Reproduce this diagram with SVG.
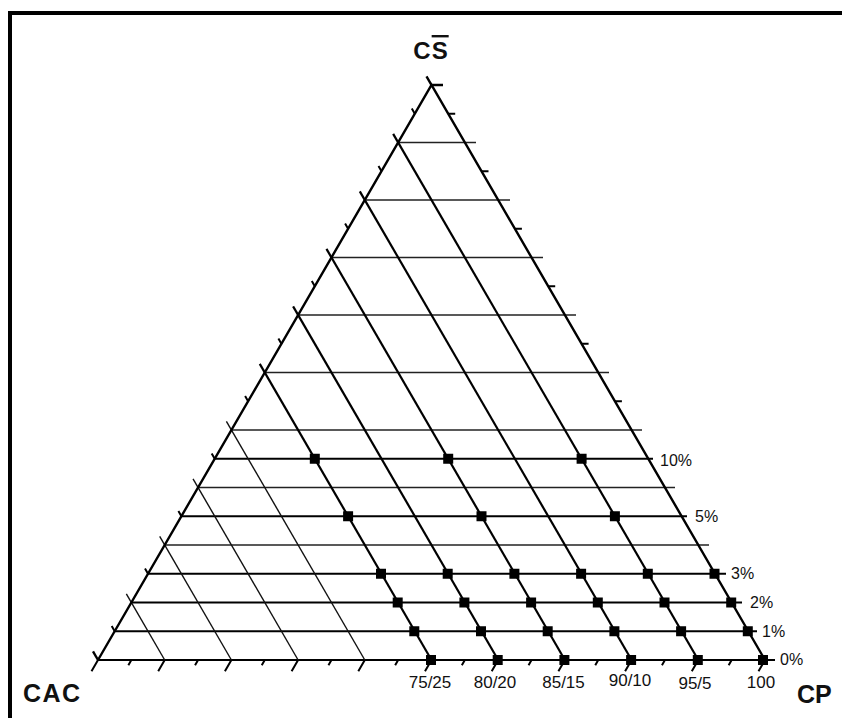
<svg xmlns="http://www.w3.org/2000/svg" width="842" height="718" viewBox="0 0 842 718">
<style>
.edge{stroke:#000;stroke-width:2.4;fill:none;stroke-linecap:butt}
.data{stroke:#000;stroke-width:2.2;fill:none}
.thin{stroke:#111;stroke-width:1.4;fill:none}
.hgrid{stroke:#222;stroke-width:1.6;fill:none}
.hdata{stroke:#000;stroke-width:2.2;fill:none}
.tick{stroke:#000;stroke-width:2;fill:none}
.m{fill:#000}
.lbl{font-family:"Liberation Sans",Arial,sans-serif;fill:#111}
.big{font-family:"Liberation Sans",Arial,sans-serif;font-weight:bold;font-size:25px;fill:#111}
</style>
<rect width="842" height="718" fill="#fff"/>
<path id="frame" d="M10,718 V13 H842" stroke="#000" stroke-width="4" fill="none"/>

<g id="horizontal-grid">
<line class="hgrid" x1="398.15" y1="142.5" x2="476" y2="142.5"/>
<line class="hgrid" x1="364.8" y1="200" x2="510" y2="200"/>
<line class="hgrid" x1="331.45" y1="257.5" x2="543" y2="257.5"/>
<line class="hgrid" x1="298.1" y1="315" x2="576" y2="315"/>
<line class="hgrid" x1="264.75" y1="372.5" x2="609" y2="372.5"/>
<line class="hgrid" x1="231.4" y1="430" x2="642" y2="430"/>
<line class="hgrid" x1="198.05" y1="487.5" x2="675" y2="487.5"/>
<line class="hgrid" x1="164.7" y1="545" x2="709" y2="545"/>
</g>
<g id="horizontal-data">
<line class="hdata" x1="214.7" y1="458.75" x2="653" y2="458.75"/>
<line class="hdata" x1="181.4" y1="516.25" x2="687" y2="516.25"/>
<line class="hdata" x1="148" y1="573.75" x2="726" y2="573.75"/>
<line class="hdata" x1="131.35" y1="602.5" x2="742" y2="602.5"/>
<line class="hdata" x1="114.7" y1="631.25" x2="757" y2="631.25"/>
<line class="hdata" x1="98" y1="660" x2="775" y2="660"/>
</g>

<g id="diagonal-grid">
<line class="thin" x1="126.35" y1="593.85" x2="164.7" y2="660"/>
<line class="thin" x1="159.7" y1="536.35" x2="231.4" y2="660"/>
<line class="thin" x1="193.05" y1="478.85" x2="298.1" y2="660"/>
<line class="thin" x1="226.4" y1="421.35" x2="364.8" y2="660"/>
</g>
<g id="diagonal-data">
<line class="data" x1="259.75" y1="363.85" x2="431.5" y2="660"/>
<line class="data" x1="293.1" y1="306.35" x2="498.2" y2="660"/>
<line class="data" x1="326.45" y1="248.85" x2="564.9" y2="660"/>
<line class="data" x1="359.8" y1="191.35" x2="631.6" y2="660"/>
<line class="data" x1="393.15" y1="133.85" x2="698.3" y2="660"/>
</g>

<g id="triangle">
<path class="edge" d="M98,660 L431.5,85 L765,660"/>
<path class="edge" d="M426.5,76.35 L431.5,85 H443"/>
<path class="edge" d="M93,651.35 L98,660"/>
</g>

<g id="ticks">
<path class="tick" d="M448.2,113.75 h7 M481.5,171.25 h7 M514.9,228.75 h7 M548.2,286.25 h7 M581.6,343.75 h7 M614.9,401.25 h7"/>
<path class="tick" d="M114.7,631.25 l-3,-5.2 M148,573.75 l-3,-5.2 M181.4,516.25 l-3,-5.2 M214.7,458.75 l-3,-5.2 M248.1,401.25 l-3,-5.2 M281.4,343.75 l-3,-5.2 M314.8,286.25 l-3,-5.2 M348.1,228.75 l-3,-5.2 M381.5,171.25 l-3,-5.2 M414.8,113.75 l-3,-5.2"/>
<path class="tick" d="M98,660 l-6.5,11.3 M164.7,660 l-6.5,11.3 M231.4,660 l-6.5,11.3 M298.1,660 l-6.5,11.3 M364.8,660 l-6.5,11.3 M431.5,660 l-6.5,11.3 M498.2,660 l-6.5,11.3 M564.9,660 l-6.5,11.3 M631.6,660 l-6.5,11.3 M698.3,660 l-6.5,11.3 M765,660 l-6.5,11.3"/>
<path class="tick" d="M131.35,660 l-3,5.2 M198.05,660 l-3,5.2 M264.75,660 l-3,5.2 M331.45,660 l-3,5.2 M398.15,660 l-3,5.2 M464.85,660 l-3,5.2 M531.55,660 l-3,5.2 M598.25,660 l-3,5.2 M664.95,660 l-3,5.2 M731.65,660 l-3,5.2"/>
</g>

<g id="markers">
<rect class="m" x="309.8" y="453.75" width="10" height="10"/>
<rect class="m" x="443.2" y="453.75" width="10" height="10"/>
<rect class="m" x="576.6" y="453.75" width="10" height="10"/>
<rect class="m" x="343.1" y="511.25" width="10" height="10"/>
<rect class="m" x="476.5" y="511.25" width="10" height="10"/>
<rect class="m" x="609.9" y="511.25" width="10" height="10"/>
<rect class="m" x="376" y="568.75" width="10" height="10"/>
<rect class="m" x="442.7" y="568.75" width="10" height="10"/>
<rect class="m" x="509.4" y="568.75" width="10" height="10"/>
<rect class="m" x="576.1" y="568.75" width="10" height="10"/>
<rect class="m" x="642.8" y="568.75" width="10" height="10"/>
<rect class="m" x="709.5" y="568.75" width="10" height="10"/>
<rect class="m" x="392.7" y="597.5" width="10" height="10"/>
<rect class="m" x="459.4" y="597.5" width="10" height="10"/>
<rect class="m" x="526.1" y="597.5" width="10" height="10"/>
<rect class="m" x="592.8" y="597.5" width="10" height="10"/>
<rect class="m" x="659.5" y="597.5" width="10" height="10"/>
<rect class="m" x="726.2" y="597.5" width="10" height="10"/>
<rect class="m" x="409.3" y="626.25" width="10" height="10"/>
<rect class="m" x="476" y="626.25" width="10" height="10"/>
<rect class="m" x="542.7" y="626.25" width="10" height="10"/>
<rect class="m" x="609.4" y="626.25" width="10" height="10"/>
<rect class="m" x="676.1" y="626.25" width="10" height="10"/>
<rect class="m" x="742.8" y="626.25" width="10" height="10"/>
<rect class="m" x="426" y="655" width="10" height="10"/>
<rect class="m" x="492.7" y="655" width="10" height="10"/>
<rect class="m" x="559.4" y="655" width="10" height="10"/>
<rect class="m" x="626.1" y="655" width="10" height="10"/>
<rect class="m" x="692.8" y="655" width="10" height="10"/>
<rect class="m" x="758" y="655" width="10" height="10"/>
</g>

<g id="axis-labels">
<text class="big" x="431" y="59" text-anchor="middle" letter-spacing="1" style="font-size:24px">C<tspan text-decoration="overline">S</tspan></text>
<text class="big" x="23" y="702" letter-spacing="1.5">CAC</text>
<text class="big" x="797" y="703">CP</text>
</g>

<g id="ratio-labels" class="lbl" font-size="17" text-anchor="middle">
<text x="430" y="688">75/25</text>
<text x="495" y="688">80/20</text>
<text x="563.5" y="688">85/15</text>
<text x="630" y="686">90/10</text>
<text x="695" y="689">95/5</text>
<text x="761" y="688">100</text>
</g>

<g id="percent-labels" class="lbl" font-size="16">
<text x="660" y="466">10%</text>
<text x="695" y="522">5%</text>
<text x="731" y="579">3%</text>
<text x="750" y="608">2%</text>
<text x="762" y="637">1%</text>
<text x="780" y="665">0%</text>
</g>
</svg>
